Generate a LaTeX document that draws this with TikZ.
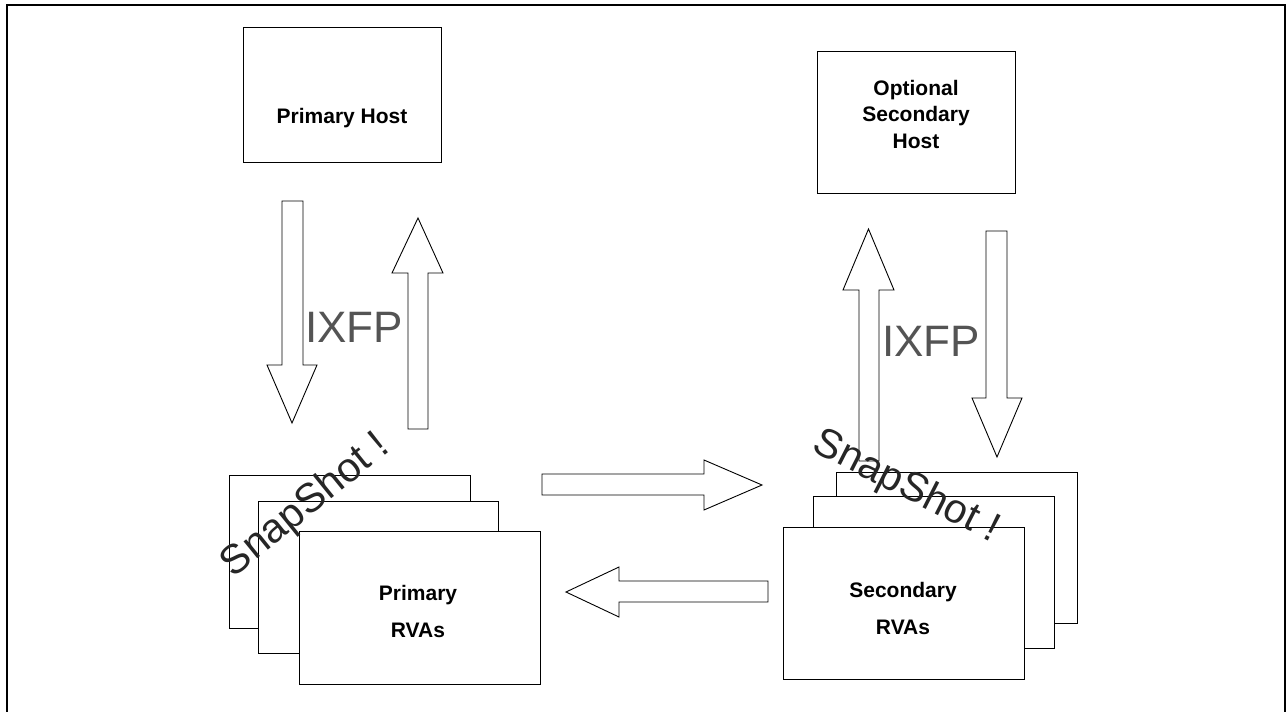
\documentclass[tikz,border=0pt]{standalone}
\usepackage{fontspec}
\setmainfont{Liberation Sans}
\begin{document}
\begin{tikzpicture}[x=1pt,y=-1pt,
  box/.style={draw=black,line width=0.9pt,fill=white},
  blockarrow/.style={draw=black,line width=0.9pt,fill=white,line join=miter},
  lbl/.style={font=\fontsize{21}{26.5}\selectfont\bfseries,align=center,inner sep=0pt},
  rvalbl/.style={font=\fontsize{21}{37}\selectfont\bfseries,align=center,inner sep=0pt},
  ixfp/.style={font=\fontsize{44}{50}\selectfont,text=black!67,inner sep=0pt},
  snap/.style={font=\fontsize{41}{48}\selectfont,text=black!85,inner sep=0pt}]
\useasboundingbox (0,0) rectangle (1286,712);
% outer frame
\draw[line width=1.3pt] (7,720) -- (7,5) -- (1285,5) -- (1285,720);
% hosts
\draw[box] (243,27) rectangle (441,162);
\node[lbl] (ph) at (342,118) {Primary Host};
\draw[box] (817,51) rectangle (1015,193);
\node[lbl] (sh) at (916,114) {Optional\\Secondary\\Host};
% left vertical arrows
\draw[blockarrow] (282,201) -- (303,201) -- (303,365) -- (317,365) -- (292,423) -- (267,365) -- (282,365) -- cycle;
\draw[blockarrow] (408,429) -- (428,429) -- (428,273) -- (443,273) -- (418,218) -- (392,273) -- (408,273) -- cycle;
\node[ixfp] (ix1) at (354,327) {IXFP};
% right vertical arrows
\draw[blockarrow] (859,461) -- (879,461) -- (879,290) -- (894,290) -- (868.5,229) -- (843,290) -- (859,290) -- cycle;
\draw[blockarrow] (986,231) -- (1007,231) -- (1007,398) -- (1022,398) -- (997,457) -- (972,398) -- (986,398) -- cycle;
\node[ixfp] (ix2) at (931,341) {IXFP};
% horizontal arrows
\draw[blockarrow] (542,474) -- (704,474) -- (704,460) -- (762,485) -- (704,510) -- (704,495) -- (542,495) -- cycle;
\draw[blockarrow] (768,581) -- (619,581) -- (619,567) -- (566,592) -- (619,617) -- (619,602) -- (768,602) -- cycle;
% primary stack
\draw[box] (229,475) rectangle (470,628);
\draw[box] (258,501) rectangle (498,653);
\draw[box] (299,531) rectangle (540,684);
\node[rvalbl] (prv) at (418,611) {Primary\\RVAs};
% secondary stack
\draw[box] (836,472) rectangle (1077,623);
\draw[box] (813,496) rectangle (1054,648);
\draw[box] (783,527) rectangle (1024,679);
\node[rvalbl] (srv) at (903,608) {Secondary\\RVAs};
% snapshot labels
\node[snap,rotate=39] (s1) at (306,506) {SnapShot !};
\node[snap,rotate=-27] (s2) at (906,487) {SnapShot !};
\end{tikzpicture}
\end{document}
